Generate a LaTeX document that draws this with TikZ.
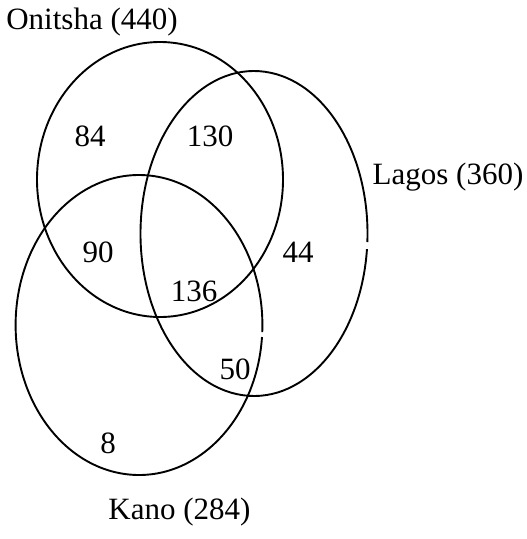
\documentclass[tikz,border=0pt]{standalone}
\usepackage{fontspec}
\setmainfont{Liberation Serif}
\usetikzlibrary{calc}
\tikzset{
  ring/.style={line width=1.9pt, black},
  lbl/.style={font=\fontsize{31}{37}\selectfont, inner sep=0pt, anchor=center}
}
\begin{document}
\begin{tikzpicture}[x=1pt,y=-1pt]
\useasboundingbox (0,0) rectangle (527,539);
% Onitsha
\draw[ring] (160,179.5) ellipse [x radius=123, y radius=137.5];
% Lagos (with a small gap on the right)
\draw[ring] ($(254,233.5)+({113.5*cos(5.5)},{162.5*sin(5.5)})$) arc[start angle=5.5, end angle=363, x radius=113.5, y radius=162.5];
% Kano (with a small gap on the right)
\draw[ring] ($(139,325)+({123.4*cos(4.6)},{150*sin(4.6)})$) arc[start angle=4.6, end angle=362.7, x radius=123.4, y radius=150];
\node[lbl] (on) at (92,22) {Onitsha (440)};
\node[lbl] (la) at (448,177) {Lagos (360)};
\node[lbl] (ka) at (179.5,512) {Kano (284)};
\node[lbl] (n84) at (90,136) {84};
\node[lbl] (n130) at (210,136) {130};
\node[lbl] (n90) at (98,252.5) {90};
\node[lbl] (n44) at (298,252) {44};
\node[lbl] (n136) at (194,291) {136};
\node[lbl] (n50) at (235,369) {50};
\node[lbl] (n8) at (108,443) {8};
\end{tikzpicture}
\end{document}
